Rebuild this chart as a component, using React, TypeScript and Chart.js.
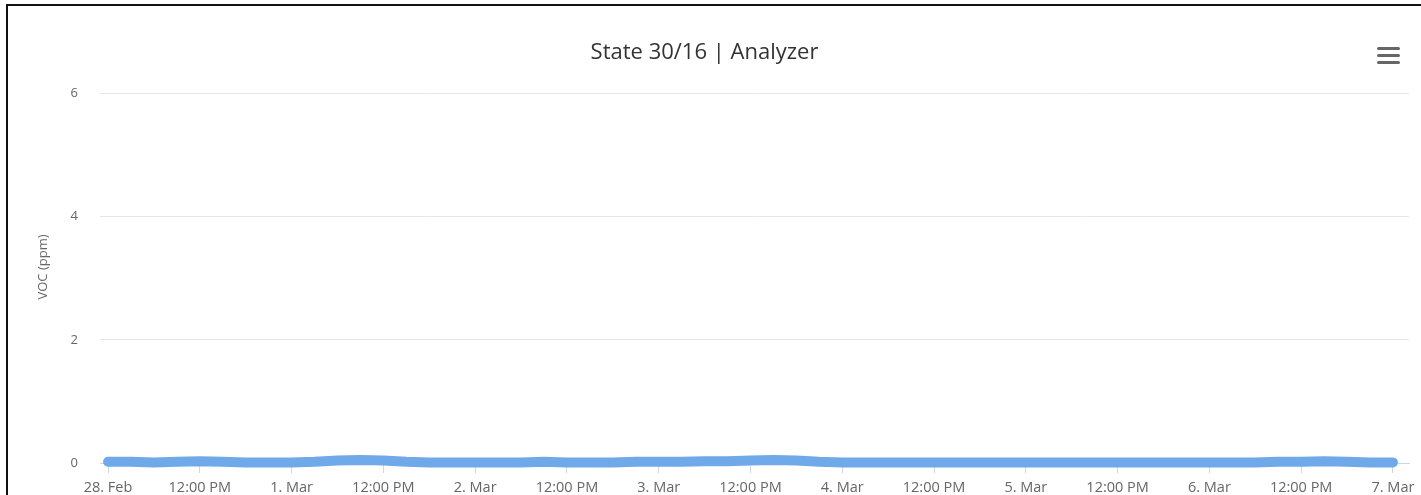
import React, { useEffect, useRef } from "react";
import { Chart, registerables } from "chart.js";

Chart.register(...registerables);

// Hours since 28 Feb 00:00, every 3 hours
const hours: number[] = [
  0, 3, 6, 9, 12, 15, 18, 21, 24, 27, 30, 33, 36, 39, 42, 45, 48, 51, 54, 57,
  60, 63, 66, 69, 72, 75, 78, 81, 84, 87, 90, 93, 96, 99, 102, 105, 108, 111,
  114, 117, 120, 123, 126, 129, 132, 135, 138, 141, 144, 147, 150, 153, 156,
  159, 162, 165, 168,
];
// VOC (ppm)
const vocValues: number[] = [
  0.02, 0.02, 0.01, 0.02, 0.03, 0.02, 0.01, 0.01, 0.01, 0.02, 0.04, 0.05,
  0.04, 0.02, 0.01, 0.01, 0.01, 0.01, 0.01, 0.02, 0.01, 0.01, 0.01, 0.02,
  0.02, 0.02, 0.03, 0.03, 0.04, 0.05, 0.04, 0.02, 0.01, 0.01, 0.01, 0.01,
  0.01, 0.01, 0.01, 0.01, 0.01, 0.01, 0.01, 0.01, 0.01, 0.01, 0.01, 0.01,
  0.01, 0.01, 0.01, 0.02, 0.02, 0.03, 0.02, 0.01, 0.01,
];
const dayLabels: string[] = [
  "28. Feb", "1. Mar", "2. Mar", "3. Mar", "4. Mar", "5. Mar", "6. Mar", "7. Mar",
];
const noonLabel = "12:00 PM";
const yTicks: number[] = [0, 2, 4, 6];

const chartTitle = "State 30/16 | Analyzer";
const yAxisTitle = "VOC (ppm)";

const FONT = "'Open Sans', sans-serif";

export default function App() {
  const ref = useRef<HTMLCanvasElement | null>(null);

  useEffect(() => {
    const canvas = ref.current;
    if (!canvas) return;

    const extras = {
      id: "extras",
      afterDraw(chart: any) {
        const ctx = chart.ctx;
        ctx.save();
        // hamburger menu icon
        ctx.fillStyle = "#666666";
        [47, 54, 61].forEach((y) => {
          ctx.beginPath();
          ctx.roundRect(1377, y, 23, 3, 1.5);
          ctx.fill();
        });
        // y axis title
        ctx.translate(43, 267);
        ctx.rotate(-Math.PI / 2);
        ctx.font = `13px ${FONT}`;
        ctx.fillStyle = "#666666";
        ctx.textAlign = "center";
        ctx.textBaseline = "middle";
        ctx.fillText(yAxisTitle, 0, 0);
        ctx.restore();
      },
    };

    const chart = new Chart(canvas, {
      type: "line",
      data: {
        datasets: [
          {
            label: yAxisTitle,
            data: hours.map((h, i) => ({ x: h, y: vocValues[i] })),
            borderColor: "#70a9e9",
            backgroundColor: "#70a9e9",
            borderWidth: 10,
            borderCapStyle: "round",
            borderJoinStyle: "round",
            pointRadius: 0,
            tension: 0,
            fill: false,
            clip: false,
          },
        ],
      },
      options: {
        responsive: false,
        animation: false,
        layout: { padding: { top: 0, left: 0, right: 12, bottom: 0 } },
        plugins: {
          legend: { display: false },
          tooltip: { enabled: false },
          title: {
            display: true,
            text: chartTitle,
            color: "#333333",
            font: { family: FONT, size: 22, weight: "normal" },
            padding: { top: 40, bottom: 27 },
          },
        },
        scales: {
          x: {
            type: "linear",
            min: -1.05,
            max: 170.1,
            afterFit(scale: any) {
              scale.height = 32;
            },
            border: { display: true, color: "#ccd6eb" },
            grid: {
              display: true,
              drawOnChartArea: false,
              drawTicks: true,
              tickLength: 10,
              tickColor: "#ccd6eb",
            },
            ticks: {
              stepSize: 12,
              includeBounds: false,
              autoSkip: false,
              maxRotation: 0,
              padding: 6,
              color: "#666666",
              font: { family: FONT, size: 14.5 },
              callback(value: any) {
                const v = Number(value);
                if (v % 24 === 12) return noonLabel;
                return dayLabels[Math.round(v / 24)] ?? "";
              },
            },
          },
          y: {
            min: 0,
            max: 6,
            afterFit(scale: any) {
              scale.width = 100;
            },
            afterBuildTicks(scale: any) {
              scale.ticks = yTicks.map((v) => ({ value: v }));
            },
            border: { display: false },
            grid: { color: "#e6e6e6", drawTicks: false, lineWidth: 1 },
            ticks: {
              padding: 22,
              color: "#666666",
              font: { family: FONT, size: 13 },
            },
          },
        },
      },
      plugins: [extras],
    });

    return () => chart.destroy();
  }, []);

  return (
    <div>
      <canvas
        ref={ref}
        width={1421}
        height={495}
        style={{
          position: "fixed",
          top: 0,
          left: 0,
          width: 1421,
          height: 495,
          display: "block",
          background: "#ffffff",
        }}
      />
      <div
        style={{
          position: "fixed",
          top: 4,
          left: 6,
          width: 2000,
          height: 2000,
          borderTop: "2px solid #111111",
          borderLeft: "2px solid #111111",
          pointerEvents: "none",
        }}
      />
    </div>
  );
}
